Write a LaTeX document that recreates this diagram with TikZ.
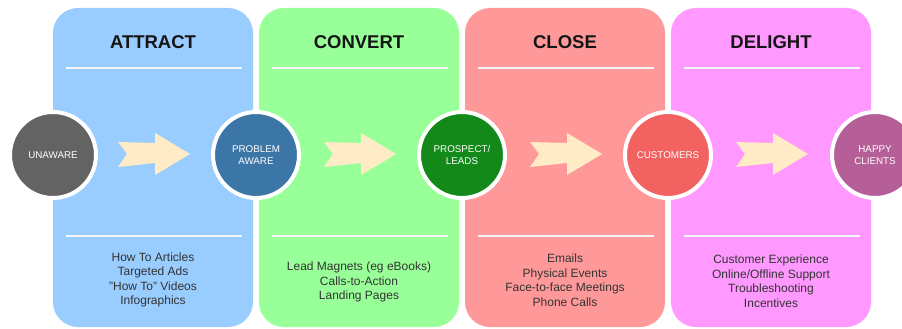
\documentclass[tikz,border=0pt]{standalone}
\usepackage{fontspec}
\setmainfont{Liberation Sans}
\definecolor{attractc}{HTML}{99CCFF}
\definecolor{convertc}{HTML}{99FF99}
\definecolor{closec}{HTML}{FF9999}
\definecolor{delightc}{HTML}{FF99FF}
\definecolor{unawarec}{HTML}{636363}
\definecolor{problemc}{HTML}{3B76A6}
\definecolor{prospectc}{HTML}{13891A}
\definecolor{customerc}{HTML}{F26260}
\definecolor{happyc}{HTML}{B65E98}
\definecolor{arrowc}{HTML}{FFEBC6}
\definecolor{titlec}{HTML}{151515}
\definecolor{bodyc}{HTML}{333333}
\begin{document}
\begin{tikzpicture}[x=1pt,y=-1pt,
  panel/.style={rectangle, rounded corners=25pt, minimum width=200pt, minimum height=319pt, inner sep=0pt, draw=none},
  sepline/.style={draw=white!92!gray, line width=1.6pt},
  paneltitle/.style={font=\fontsize{18.5}{20}\selectfont\bfseries, text=titlec, anchor=center},
  bodytext/.style={font=\fontsize{12}{14.5}\selectfont, text=bodyc, align=center, anchor=center},
  stage/.style={circle, minimum size=86pt, inner sep=0pt, draw=white, line width=4pt, text=white, align=center, font=\fontsize{9.8}{12}\selectfont},
  fwdarrow/.pic={\fill[arrowc] (-35,-12) -- (2,-11) -- (2,-21) -- (37,0) -- (2,21) -- (2,9) -- (-35,13) -- (-26,0) -- cycle;}
]
\clip (0,0) rectangle (902,329);
\fill[white] (0,0) rectangle (902,329);

% panels
\node[panel, fill=attractc] (p1) at (153,167.5) {};
\node[panel, fill=convertc] (p2) at (359,167.5) {};
\node[panel, fill=closec] (p3) at (565,167.5) {};
\node[panel, fill=delightc] (p4) at (771,167.5) {};

% separator lines
\foreach \cx in {153,359,565,771}{
  \draw[sepline] (\cx-87,68) -- (\cx+89,68);
  \draw[sepline] (\cx-87,236) -- (\cx+89,236);
}

% titles
\node[paneltitle] (t1) at (153,42) {ATTRACT};
\node[paneltitle] (t2) at (359,42) {CONVERT};
\node[paneltitle] (t3) at (565,42) {CLOSE};
\node[paneltitle] (t4) at (771,42) {DELIGHT};

% arrows
\pic at (153,154) {fwdarrow};
\pic at (359,154) {fwdarrow};
\pic at (565,154) {fwdarrow};
\pic at (771,154) {fwdarrow};

% body texts
\node[bodytext] (b1) at (153,280) {How To Articles\\Targeted Ads\\\symbol{34}How To\symbol{34} Videos\\Infographics};
\node[bodytext] (b2) at (359,282) {Lead Magnets (eg eBooks)\\Calls-to-Action\\Landing Pages};
\node[bodytext] (b3) at (565,280) {Emails\\Physical Events\\Face-to-face Meetings\\Phone Calls};
\node[bodytext] (b4) at (771,281) {Customer Experience\\Online/Offline Support\\Troubleshooting\\Incentives};

% stage circles
\node[stage, fill=unawarec] (s0) at (53,155) {UNAWARE};
\node[stage, fill=problemc] (s1) at (256,155) {PROBLEM\\AWARE};
\node[stage, fill=prospectc] (s2) at (462,155) {PROSPECT/\\LEADS};
\node[stage, fill=customerc] (s3) at (668,155) {CUSTOMERS};
\node[stage, fill=happyc] (s4) at (875,155) {HAPPY\\CLIENTS};
\end{tikzpicture}
\end{document}
